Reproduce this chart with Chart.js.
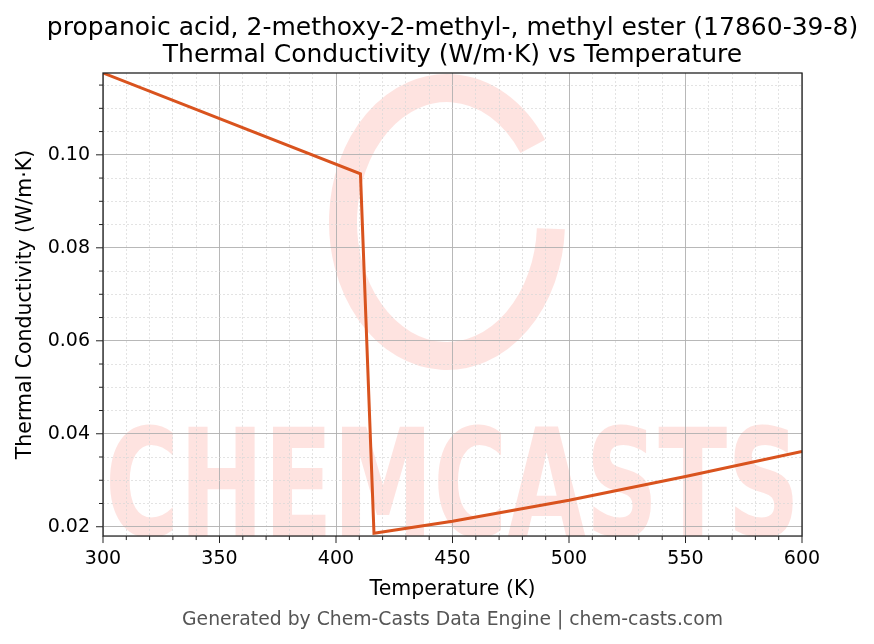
<!DOCTYPE html>
<html>
<head>
<meta charset="utf-8">
<script src="https://cdn.jsdelivr.net/npm/chart.js@4"></script>
<style>
  html, body { margin: 0; padding: 0; background: #fff; }
  #wrap { width: 874px; height: 644px; }
</style>
</head>
<body>
<div id="wrap"><canvas id="myChart" width="874" height="644"></canvas></div>
<script>
const temperatures = [300, 410.5, 416.3, 450, 500, 550, 600];
const conductivity = [0.1176, 0.0959, 0.0186, 0.0212, 0.0257, 0.0308, 0.0362];
const xRange = [300, 600];
const yRange = [0.018, 0.1176];
const titleLines = [
  "propanoic acid, 2-methoxy-2-methyl-, methyl ester (17860-39-8)",
  "Thermal Conductivity (W/m\u00b7K) vs Temperature",
];
const footer = "Generated by Chem-Casts Data Engine | chem-casts.com";

const FONT = "'DejaVu Sans', sans-serif";
const isMajorX = (v) => Math.abs(v / 50 - Math.round(v / 50)) < 1e-6;
const isMajorY = (v) => Math.abs(v / 0.02 - Math.round(v / 0.02)) < 1e-6;

// pink logo + CHEMCASTS text behind the grid
const watermark = {
  id: "watermark",
  beforeDraw(chart) {
    const { ctx, chartArea: a } = chart;
    ctx.save();
    ctx.beginPath();
    ctx.rect(a.left, a.top, a.right - a.left, a.bottom - a.top);
    ctx.clip();
    ctx.strokeStyle = "rgba(250,128,114,0.22)";
    ctx.lineWidth = 28;
    ctx.beginPath();
    ctx.ellipse(447, 222, 104, 134, 0, 0.05, Math.PI * 2 - 0.6);
    ctx.stroke();
    ctx.fillStyle = "rgba(250,128,114,0.22)";
    ctx.font = "bold 150px " + FONT;
    ctx.textAlign = "left";
    ctx.textBaseline = "alphabetic";
    ctx.fillText("CHEMCASTS", a.left + 2, 536, a.right - a.left - 4);
    ctx.restore();
  },
};

// frame + major/minor tick marks
const frame = {
  id: "frame",
  afterDraw(chart) {
    const { ctx, chartArea: a, scales } = chart;
    ctx.save();
    ctx.strokeStyle = "#222";
    ctx.lineWidth = 1.3;
    ctx.strokeRect(a.left, a.top, a.right - a.left, a.bottom - a.top);
    ctx.lineWidth = 1;
    scales.x.ticks.forEach((t) => {
      const px = scales.x.getPixelForValue(t.value);
      const len = isMajorX(t.value) ? 7 : 4;
      ctx.beginPath();
      ctx.moveTo(px, a.bottom);
      ctx.lineTo(px, a.bottom + len);
      ctx.stroke();
    });
    scales.y.ticks.forEach((t) => {
      const py = scales.y.getPixelForValue(t.value);
      const len = isMajorY(t.value) ? 7 : 4;
      ctx.beginPath();
      ctx.moveTo(a.left, py);
      ctx.lineTo(a.left - len, py);
      ctx.stroke();
    });
    ctx.restore();
  },
};

const data = {
  datasets: [
    {
      data: temperatures.map((t, i) => ({ x: t, y: conductivity[i] })),
      borderColor: "#d9531e",
      borderWidth: 3,
      pointRadius: 0,
      tension: 0,
      fill: false,
    },
  ],
};

const config = {
  type: "line",
  data: data,
  options: {
    responsive: false,
    animation: false,
    // left padding 31 keeps title/footer centred over the plot area
    layout: { padding: { left: 31, right: 0, top: 0, bottom: 0 } },
    plugins: {
      legend: { display: false },
      tooltip: { enabled: false },
      title: {
        display: true,
        text: titleLines,
        color: "#000",
        font: { family: FONT, size: 25, weight: "normal", lineHeight: 1.08 },
        padding: { top: 15, bottom: 4 },
      },
      subtitle: {
        display: true,
        position: "bottom",
        text: footer,
        color: "#555",
        font: { family: FONT, size: 18.8, weight: "normal", lineHeight: 1.2 },
        padding: { top: 0, bottom: 12.5 },
      },
    },
    scales: {
      x: {
        type: "linear",
        min: xRange[0],
        max: xRange[1],
        afterFit: (s) => { s.height = 72.9; },
        ticks: {
          stepSize: 10,
          autoSkip: false,
          maxRotation: 0,
          padding: 5,
          color: "#000",
          font: { family: FONT, size: 19 },
          callback: (v) => (isMajorX(v) ? String(v) : ""),
        },
        grid: {
          color: (c) => (c.tick && isMajorX(c.tick.value) ? "#b0b0b0" : "#d8d8d8"),
          lineWidth: (c) => (c.tick && isMajorX(c.tick.value) ? 0.9 : 0.7),
          drawTicks: true,
          tickLength: 7,
          tickColor: "transparent",
        },
        border: {
          display: false,
          dash: (c) => (c.tick && !isMajorX(c.tick.value) ? [2, 2] : []),
        },
        title: {
          display: true,
          text: "Temperature (K)",
          color: "#000",
          font: { family: FONT, size: 20.5 },
          padding: { top: 4, bottom: 7 },
        },
      },
      y: {
        type: "linear",
        min: yRange[0],
        max: yRange[1],
        afterFit: (s) => { s.width = 72; },
        ticks: {
          stepSize: 0.005,
          includeBounds: false,
          autoSkip: false,
          padding: 6,
          color: "#000",
          font: { family: FONT, size: 19 },
          callback: (v) => (isMajorY(v) ? v.toFixed(2) : ""),
        },
        grid: {
          color: (c) => (c.tick && isMajorY(c.tick.value) ? "#b0b0b0" : "#d8d8d8"),
          lineWidth: (c) => (c.tick && isMajorY(c.tick.value) ? 0.9 : 0.7),
          drawTicks: true,
          tickLength: 7,
          tickColor: "transparent",
        },
        border: {
          display: false,
          dash: (c) => (c.tick && !isMajorY(c.tick.value) ? [2, 2] : []),
        },
        title: {
          display: true,
          text: "Thermal Conductivity (W/m\u00b7K)",
          color: "#000",
          font: { family: FONT, size: 20.5 },
          padding: { top: -17.5, bottom: 4 },
        },
      },
      // empty spacer on the right so the plot ends at the same place
      spacer: {
        type: "linear",
        position: "right",
        afterFit: (s) => { s.width = 72; },
        ticks: { display: false },
        grid: { display: false },
        border: { display: false },
      },
    },
  },
  plugins: [watermark, frame],
};

const myChart = new Chart(document.getElementById("myChart"), config);
</script>
</body>
</html>
